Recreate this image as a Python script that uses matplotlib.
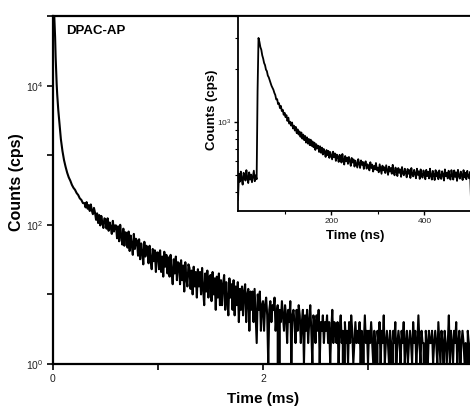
import numpy as np
import matplotlib
matplotlib.use('Agg')
import matplotlib.pyplot as plt
from matplotlib.ticker import NullLocator, NullFormatter, LogLocator

plt.rcParams['font.family'] = ['Liberation Sans', 'DejaVu Sans']
plt.rcParams['mathtext.fontset'] = 'custom'
plt.rcParams['mathtext.rm'] = 'Liberation Sans'
plt.rcParams['mathtext.it'] = 'Liberation Sans:italic'
plt.rcParams['mathtext.bf'] = 'Liberation Sans:bold'

# main decay, early part (time in ms, counts in cps)
early_t = [0.0, 0.01, 0.02, 0.025, 0.03, 0.035, 0.04, 0.05, 0.06, 0.075, 0.09,
           0.105, 0.12, 0.135, 0.15, 0.165, 0.18, 0.195, 0.21, 0.225, 0.24, 0.255,
           0.27, 0.285]
early_v = [1.8e5, 1.2e5, 5.0e4, 2.6e4, 1.6e4, 1.05e4, 7.5e3, 4.5e3, 3.0e3, 1.7e3, 1.15e3,
           850, 680, 560, 480, 430, 375, 340, 318, 286, 268, 240,
           228, 205]

# main decay, noisy tail: 0.30 ms .. 4.00 ms every 0.01 ms (one row = 0.1 ms)
tail_start, tail_step = 0.30, 0.01
tail_v = [205, 178, 212, 170, 192, 158, 196, 160, 142, 175,
          150, 118, 146, 106, 138, 98, 134, 108, 90, 124,
          118, 88, 124, 82, 108, 92, 74, 114, 80, 98,
          98, 64, 95, 58, 100, 68, 52, 88, 50, 78,
          76, 47, 80, 42, 70, 52, 37, 74, 45, 63,
          59, 36, 62, 32, 54, 40, 27, 57, 35, 50,
          47, 28, 50, 31, 23, 45, 30, 43, 21, 40,
          40, 23, 43, 21, 35, 18, 41, 25, 37, 20,
          34, 18, 37, 21, 14, 32, 20, 35, 16, 29,
          28, 14, 31, 16, 26, 11, 29, 17, 13, 27,
          24, 12, 22, 10, 25, 13, 21, 9, 23, 13,
          21, 10, 24, 12, 7, 20, 11, 22, 9, 18,
          19, 8, 21, 10, 17, 6, 18, 9, 20, 7,
          16, 7, 14, 19, 6, 15, 8, 5, 17, 9,
          14, 6, 16, 5, 13, 7, 15, 4, 12, 6,
          13, 5, 11, 14, 4, 10, 12, 3, 11, 6,
          11, 4, 12, 5, 2, 10, 6, 11, 3, 7,
          8, 3, 7, 9, 5, 1, 6, 8, 4, 7,
          6, 9, 3, 5, 7, 0, 6, 4, 8, 5,
          3, 7, 5, 2, 6, 4, 8, 1, 5, 6,
          4, 2, 6, 3, 7, 5, 2, 4, 6, 1,
          5, 3, 6, 2, 4, 7, 3, 1, 5, 4,
          2, 5, 3, 6, 1, 4, 3, 5, 2, 4,
          3, 5, 2, 4, 1, 3, 6, 2, 4, 3,
          2, 4, 1, 3, 5, 2, 3, 0, 4, 2,
          3, 1, 4, 2, 5, 3, 1, 2, 4, 2,
          3, 2, 4, 1, 3, 0, 2, 5, 2, 3,
          1, 3, 2, 4, 2, 1, 3, 2, 0, 3,
          2, 4, 1, 3, 2, 5, 1, 2, 3, 2,
          1, 3, 2, 0, 3, 2, 4, 1, 2, 3,
          2, 1, 3, 2, 4, 1, 2, 3, 1, 2,
          3, 2, 1, 4, 2, 3, 1, 2, 5, 2,
          1, 3, 2, 2, 0, 3, 2, 1, 3, 2,
          2, 3, 1, 2, 3, 2, 1, 4, 2, 1,
          3, 2, 1, 3, 2, 1, 2, 5, 1, 3,
          2, 1, 3, 2, 4, 1, 2, 3, 1, 2,
          3, 2, 1, 2, 0, 3, 2, 1, 2, 3, 2]

# inset: 0 .. 500 ns every 2 ns (one row = 20 ns)
inset_step = 2
inset_v = [360, 505, 455, 520, 470, 438, 512, 490, 462, 530,
           478, 447, 515, 468, 500, 452, 489, 526, 458, 495,
           470, 1500, 3000, 2850, 2660, 2570, 2390, 2290, 2160, 2100,
           1980, 1940, 1830, 1790, 1720, 1660, 1600, 1560, 1520, 1460,
           1420, 1340, 1345, 1260, 1275, 1195, 1230, 1150, 1170, 1095,
           1125, 1060, 1090, 1010, 1055, 975, 1000, 950, 990, 915,
           950, 890, 935, 860, 905, 845, 880, 820, 868, 800,
           845, 785, 830, 760, 815, 750, 798, 735, 790, 728,
           772, 715, 760, 690, 745, 705, 730, 672, 725, 665,
           712, 650, 700, 668, 630, 690, 645, 682, 622, 672,
           640, 610, 675, 628, 660, 598, 650, 632, 590, 648,
           622, 585, 655, 602, 570, 638, 595, 625, 575, 630,
           600, 560, 622, 585, 610, 555, 600, 572, 548, 612,
           580, 545, 602, 568, 590, 538, 578, 595, 540, 572,
           555, 528, 588, 545, 570, 520, 560, 535, 582, 530,
           548, 515, 572, 538, 505, 562, 528, 550, 510, 565,
           530, 498, 555, 520, 545, 505, 568, 515, 495, 548,
           520, 490, 545, 512, 535, 485, 552, 508, 495, 540,
           515, 482, 538, 505, 530, 478, 545, 500, 488, 532,
           505, 476, 540, 498, 522, 472, 535, 495, 480, 528,
           502, 470, 532, 490, 518, 475, 540, 492, 468, 525,
           498, 465, 530, 488, 515, 470, 528, 485, 472, 522,
           500, 462, 535, 490, 512, 475, 526, 482, 468, 530,
           495, 468, 528, 485, 515, 460, 532, 490, 474, 520,
           498, 465, 530, 482, 512, 470, 525, 488, 476, 518,
           360]

main_yticks = [1, 10, 100, 1e3, 1e4, 1e5]
main_ylabels = ['$10^0$', '', '$10^2$', '', '$10^4$', '']

tail_t = tail_start + tail_step * np.arange(len(tail_v))
main_t = np.concatenate([early_t, tail_t])
main_v = np.concatenate([early_v, tail_v]).astype(float)
inset_t = inset_step * np.arange(len(inset_v))

W, H = 470, 408
fig = plt.figure(figsize=(W / 100, H / 100), dpi=100)

# main axes (right side runs a bit past the picture edge, as in the original)
ax = fig.add_axes([53 / W, (H - 364) / H, 420 / W, 348 / H])
ax.plot(main_t, main_v, color='black', lw=1.5)
ax.set_yscale('log')
ax.set_ylim(1, 1e5)
ax.set_xlim(0, 4)
ax.set_yticks(main_yticks)
ax.set_yticklabels(main_ylabels)
ax.yaxis.set_minor_locator(NullLocator())
ax.set_xticks([0, 2, 4])
ax.set_xticks([1, 3], minor=True)
for s in ['left', 'bottom', 'top']:
    ax.spines[s].set_linewidth(1.6)
ax.tick_params(which='both', direction='out', length=4, width=1.2,
               labelsize=7.5, pad=3, colors='black', labelcolor='#222222')
ax.text(13 / 420, 0.975, 'DPAC-AP', transform=ax.transAxes, ha='left', va='top',
        fontsize=9.5, fontweight='bold')

fig.text(17 / W, 1 - 182 / H, 'Counts (cps)', rotation=90, ha='center', va='center',
         fontsize=11.5, fontweight='bold')
fig.text(263 / W, 1 - 399 / H, 'Time (ms)', ha='center', va='center',
         fontsize=11, fontweight='bold')

# inset
axi = fig.add_axes([238 / W, (H - 211) / H, 233 / W, 195 / H])
axi.set_facecolor('white')
axi.plot(inset_t, inset_v, color='black', lw=1.3)
axi.set_yscale('log')
axi.set_ylim(310, 4000)
axi.set_xlim(0, 500)
axi.set_yticks([1000])
axi.set_yticklabels(['$10^3$'])
axi.yaxis.set_minor_locator(LogLocator(base=10, subs=np.arange(2, 10)))
axi.yaxis.set_minor_formatter(NullFormatter())
axi.set_xticks([200, 400])
axi.set_xticks([100, 300], minor=True)
for s in axi.spines.values():
    s.set_linewidth(1.3)
axi.tick_params(which='major', direction='out', length=3, width=1.0,
                labelsize=6, pad=2, labelcolor='#222222')
axi.tick_params(which='minor', direction='out', length=2, width=0.8)
fig.text(212 / W, 1 - 110 / H, 'Counts (cps)', rotation=90, ha='center', va='center',
         fontsize=9.5, fontweight='bold')
fig.text(355 / W, 1 - 236 / H, 'Time (ns)', ha='center', va='center',
         fontsize=9.5, fontweight='bold')

fig.savefig('out.png', dpi=100)
